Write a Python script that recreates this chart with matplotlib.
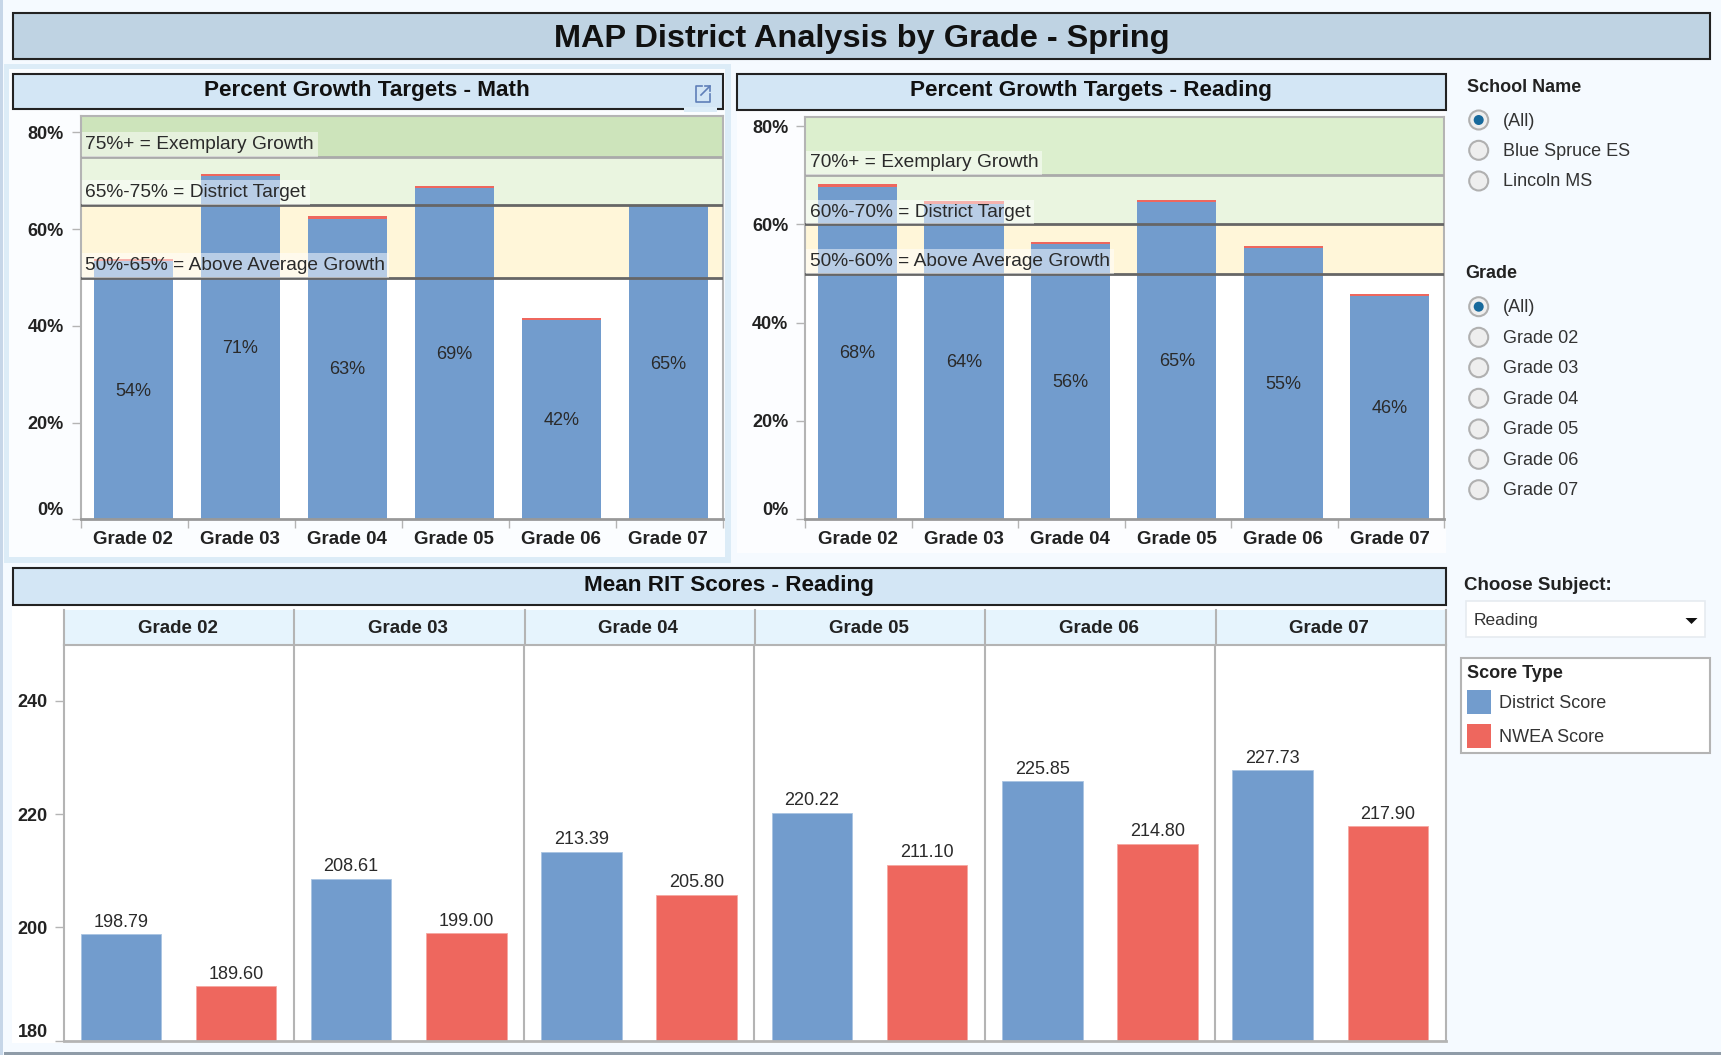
import numpy as np
import matplotlib
matplotlib.use("Agg")
import matplotlib.pyplot as plt
from matplotlib.patches import Circle, Rectangle, Polygon

plt.rcParams['font.family'] = ['Liberation Sans', 'DejaVu Sans']

W, H = 1721, 1055

BLUE = '#729ccd'
RED = '#ee675e'
TEXT = '#222222'
AXIS = '#b4b4b4'
DARK_LINE = '#666666'
PAGE = '#f5faff'

grades = ['Grade 02', 'Grade 03', 'Grade 04', 'Grade 05', 'Grade 06', 'Grade 07']

# percent growth charts
math_district = [53.4, 70.9, 62.2, 68.5, 41.2, 64.7]
math_nwea = [0.45, 0.45, 0.45, 0.45, 0.45, 0.3]
math_labels = ['54%', '71%', '63%', '69%', '42%', '65%']
reading_district = [67.7, 64.2, 56.0, 64.6, 55.2, 45.4]
reading_nwea = [0.45, 0.45, 0.45, 0.45, 0.45, 0.45]
reading_labels = ['68%', '64%', '56%', '65%', '55%', '46%']
pct_ticks = [0, 20, 40, 60, 80]
pct_tick_labels = ['0%', '20%', '40%', '60%', '80%']

math_bands = [50, 65, 75]
math_band_text = ['50%-65% = Above Average Growth', '65%-75% = District Target', '75%+ = Exemplary Growth']
reading_bands = [50, 60, 70]
reading_band_text = ['50%-60% = Above Average Growth', '60%-70% = District Target', '70%+ = Exemplary Growth']

# mean RIT chart
rit_district = [198.79, 208.61, 213.39, 220.22, 225.85, 227.73]
rit_nwea = [189.60, 199.00, 205.80, 211.10, 214.80, 217.90]
rit_ticks = [180, 200, 220, 240]

school_options = ['(All)', 'Blue Spruce ES', 'Lincoln MS']
grade_options = ['(All)'] + grades

fig = plt.figure(figsize=(W / 100, H / 100), dpi=100, facecolor=PAGE)


def px_axes(left, top, right, bottom, **kwargs):
    return fig.add_axes([left / W, 1 - bottom / H, (right - left) / W, (bottom - top) / H], **kwargs)


# page furniture, in pixel coordinates
bg = fig.add_axes([0, 0, 1, 1], zorder=0)
bg.set_xlim(0, W)
bg.set_ylim(H, 0)
bg.axis('off')


def box(x0, y0, x1, y1, fc, ec='none', lw=0):
    bg.add_patch(Rectangle((x0, y0), x1 - x0, y1 - y0, facecolor=fc, edgecolor=ec, linewidth=lw))


def header(x0, y0, x1, y1, fc, text, tx, size, dy=-1):
    box(x0, y0, x1, y1, fc, '#222222', 1.5)
    bg.text(tx, (y0 + y1) / 2 + dy, text, ha='center', va='center', fontsize=size, fontweight='bold', color='#111111')


box(0, 0, 3, H, '#c6d6e8')
box(4, 1052, W, H, '#8f9ca8')
box(4, 64, 731, 563, '#dcecf7')
box(9, 69, 725, 557, '#fbfdff')
box(737, 110, 1446, 553, '#fcfdff')
box(12, 605, 1446, 1043, 'white')

header(13, 12.5, 1710, 58.5, '#bfd3e3', 'MAP District Analysis by Grade - Spring', 862, 23.4, dy=3.5)
header(13, 73.5, 723, 109, '#d3e6f5', 'Percent Growth Targets - Math', 367, 16.2)
header(737, 73.5, 1446, 110, '#d3e6f5', 'Percent Growth Targets - Reading', 1090.5, 16.2)
header(13, 568, 1446, 604.5, '#d3e6f5', 'Mean RIT Scores - Reading', 729, 16.2)

# pop-out icon over the math header
box(684, 107, 717, 112, '#dcecf7')
bg.plot([702, 696, 696, 710, 710], [86, 86, 102, 102, 94], color='#5f7fb8', lw=1.2)
bg.plot([701, 710, 710], [95, 86, 91], color='#5f7fb8', lw=1.2)
bg.plot([705, 710], [86, 86], color='#5f7fb8', lw=1.2)

# facet header band
box(63.8, 610, 1446, 645, '#e6f4fd')
cell = (1446 - 63.8) / 6
for i, g in enumerate(grades):
    bg.plot([63.8 + i * cell] * 2, [610, 645], color=AXIS, lw=1.5)
    bg.text(63.8 + (i + 0.5) * cell - 1.5, 628.5, g, ha='center', va='center', fontsize=13.5, fontweight='bold', color=TEXT)
bg.plot([1446, 1446], [610, 645], color=AXIS, lw=1.5)


def radios(title, title_x, title_y, options, ys):
    bg.text(title_x, title_y, title, ha='left', va='center', fontsize=13, fontweight='bold', color=TEXT)
    for j, (opt, y) in enumerate(zip(options, ys)):
        bg.add_patch(Circle((1478.7, y), 9.5, facecolor='#eeeeee', edgecolor='#b0b0b0', linewidth=1.5))
        if j == 0:
            bg.add_patch(Circle((1478.7, y), 5, facecolor='#17699c', edgecolor='none'))
        bg.text(1502.7, y + 1, opt, ha='left', va='center', fontsize=13, color='#333333')


radios('School Name', 1467, 88, school_options, [120, 150.3, 181])
radios('Grade', 1465, 274, grade_options, [306.7, 337.3, 367.7, 398.3, 429, 459.3, 489.7])

bg.text(1464, 586, 'Choose Subject:', ha='left', va='center', fontsize=13.5, fontweight='bold', color=TEXT)
box(1466, 601, 1705, 636.5, 'white', '#e6ebf0', 1.2)
bg.text(1474, 620.5, 'Reading', ha='left', va='center', fontsize=12.5, color='#333333')
bg.add_patch(Polygon([[1685.5, 618], [1697.5, 618], [1691.5, 624]], closed=True, facecolor='#111111'))

box(1461, 658, 1710, 753, 'white', AXIS, 1.5)
bg.text(1467, 674, 'Score Type', ha='left', va='center', fontsize=13, fontweight='bold', color=TEXT)
box(1467, 690, 1491, 714, BLUE)
box(1467, 724, 1491, 748, RED)
bg.text(1499, 704, 'District Score', ha='left', va='center', fontsize=13, color='#333333')
bg.text(1499, 738, 'NWEA Score', ha='left', va='center', fontsize=13, color='#333333')


def growth_chart(rect, ymax, district, nwea, labels, bands, band_text, top_band):
    ax = px_axes(*rect, zorder=2)
    ax.set_xlim(-0.49, 5.51)
    ax.set_ylim(0, ymax)
    ax.set_facecolor('white')

    ax.axhspan(bands[0], bands[1], color='#fff6d9', lw=0, zorder=1)
    ax.axhspan(bands[1], bands[2], color='#eaf5e0', lw=0, zorder=1)
    ax.axhspan(bands[2], ymax, color=top_band, lw=0, zorder=1)

    x = np.arange(len(grades))
    d = np.array(district)
    n = np.array(nwea)
    ax.bar(x, d, width=0.745, color=BLUE, zorder=2)
    ax.bar(x, n, width=0.745, bottom=d, color=RED, zorder=2)
    for xi, top, lab in zip(x, d + n, labels):
        ax.annotate(lab, xy=(xi, top / 2), xytext=(0, -1.5), textcoords='offset points',
                    ha='center', va='center', fontsize=13, color='#2a2a2a', zorder=3)

    ax.axhline(bands[0], color=DARK_LINE, lw=2, zorder=4)
    ax.axhline(bands[1], color=DARK_LINE, lw=2, zorder=4)
    ax.axhline(bands[2], color='#aaaaaa', lw=2, zorder=4)

    for val, txt in zip(bands, band_text):
        ax.annotate(txt, xy=(-0.49, val), xytext=(3.2, 8.8), textcoords='offset points',
                    ha='left', va='center', fontsize=13.8, color='#2a2a2a', zorder=5,
                    bbox=dict(boxstyle='square,pad=0.2', fc='white', ec='none', alpha=0.5))

    ax.set_xticks(x, grades, fontsize=13.5, fontweight='bold', color=TEXT)
    ax.set_xticks(np.arange(-0.49, 6), minor=True)
    ax.tick_params(axis='x', which='major', length=0, pad=8.5)
    ax.tick_params(axis='x', which='minor', length=6.5, color=AXIS, width=1)
    ax.set_yticks(pct_ticks, pct_tick_labels, fontsize=13, fontweight='bold', color=TEXT)
    ax.tick_params(axis='y', length=6.5, color=AXIS, width=1, pad=5.8)
    ax.get_yticklabels()[0].set_va('bottom')
    for side in ['left', 'right', 'top']:
        ax.spines[side].set_color(AXIS)
        ax.spines[side].set_linewidth(1.5)
    ax.spines['bottom'].set_color('#999999')
    ax.spines['bottom'].set_linewidth(2)
    return ax


growth_chart((81, 116, 723, 519.3), 83.4, math_district, math_nwea, math_labels,
             math_bands, math_band_text, '#cde4bb')
growth_chart((805.4, 116.7, 1444, 519.3), 81.9, reading_district, reading_nwea, reading_labels,
             reading_bands, reading_band_text, '#dcefce')

# mean RIT scores, two bars per grade
ax = px_axes(63.8, 645, 1446, 1040.8, zorder=2)
ax.set_xlim(-0.495, 11.505)
ax.set_ylim(180, 249.83)
ax.set_facecolor('white')
xd = np.arange(6) * 2
xn = xd + 1
ax.bar(xd, np.array(rit_district) - 180, bottom=180, width=0.70, color=BLUE, edgecolor='#a9c4e2', lw=0.6, zorder=2)
ax.bar(xn, np.array(rit_nwea) - 180, bottom=180, width=0.70, color=RED, edgecolor='#f5a8a2', lw=0.6, zorder=2)
for xs, vals in [(xd, rit_district), (xn, rit_nwea)]:
    for xi, v in zip(xs, vals):
        ax.annotate(f'{v:.2f}', xy=(xi, v), xytext=(0, 2.4), textcoords='offset points',
                    ha='center', va='bottom', fontsize=13, color='#2a2a2a', zorder=3)
for b in np.arange(1.5, 11, 2):
    ax.axvline(b, color=AXIS, lw=1.5, zorder=1)
ax.set_xticks([])
ax.set_yticks(rit_ticks, [str(t) for t in rit_ticks], fontsize=13, fontweight='bold', color=TEXT)
ax.tick_params(axis='y', length=6.5, color=AXIS, width=1, pad=5)
ax.get_yticklabels()[0].set_va('bottom')
for side in ['left', 'right', 'top', 'bottom']:
    ax.spines[side].set_color(AXIS)
    ax.spines[side].set_linewidth(1.5)
ax.spines['bottom'].set_linewidth(2)

fig.savefig('out.png', dpi=100, facecolor=PAGE)
